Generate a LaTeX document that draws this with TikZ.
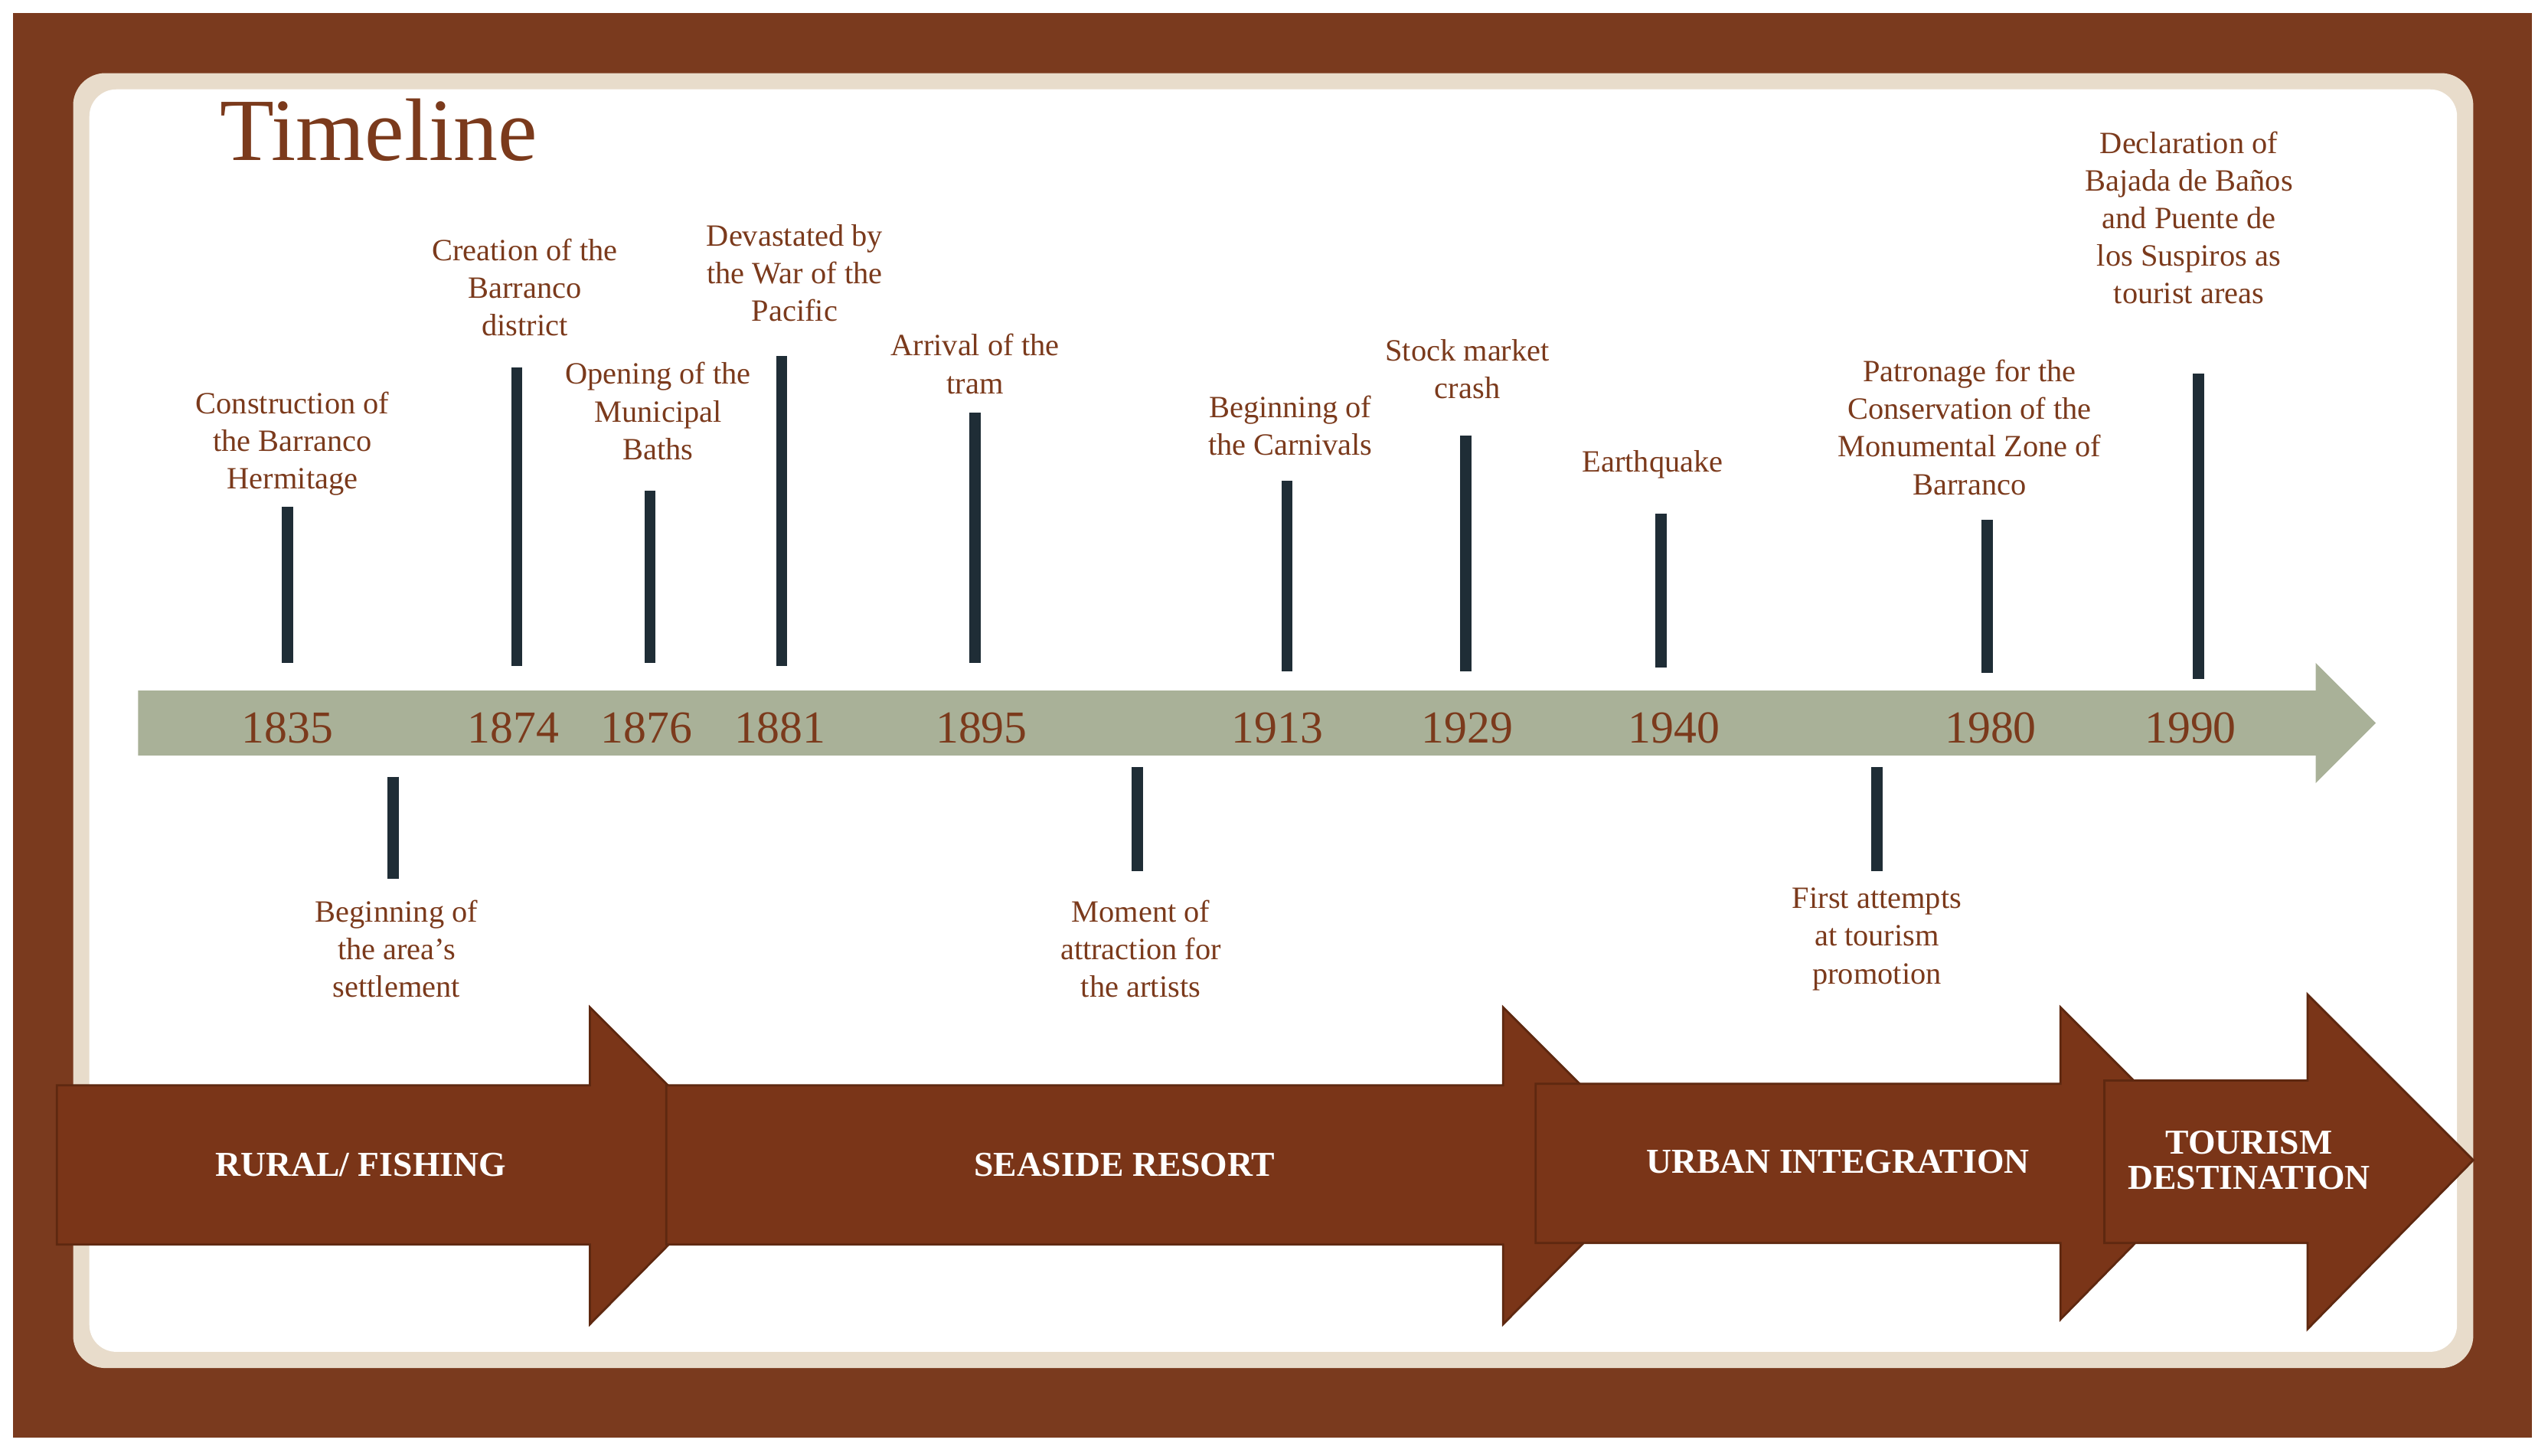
\documentclass[tikz,border=0pt]{standalone}
\usepackage{fontspec}
\setmainfont{Liberation Serif}
\usetikzlibrary{positioning}
\definecolor{framebrown}{HTML}{7A3A1E}
\definecolor{arrowbrown}{HTML}{7A3518}
\definecolor{edgebrown}{HTML}{5E2810}
\definecolor{textbrown}{HTML}{7B3A1C}
\definecolor{sage}{HTML}{A9B198}
\definecolor{tickslate}{HTML}{1F2D36}
\definecolor{glow}{HTML}{E8DCCB}

\begin{document}
\begin{tikzpicture}[x=0.02122cm, y=-0.02122cm,
  evt/.style={align=center, text=textbrown, font=\fontsize{11.5}{14}\selectfont},
  yr/.style={text=textbrown, font=\fontsize{17}{20}\selectfont},
  tick/.style={draw=tickslate, line width=4.2pt},
  phase/.style={fill=arrowbrown, draw=edgebrown, line width=0.8pt},
  phaselbl/.style={align=center, text=white, font=\bfseries\fontsize{13}{13}\selectfont}]

\useasboundingbox (0,0) rectangle (1568,896);

% frame and panel
\fill[framebrown] (8,8) rectangle (1558,885);
\fill[glow, rounded corners=12pt] (45,45) rectangle (1522,842);
\fill[white, rounded corners=10pt] (55,55) rectangle (1512,832);

\node[text=textbrown, font=\fontsize{33}{40}\selectfont] (title) at (233,80) {Timeline};

% main axis arrow
\fill[sage] (85,425) -- (1425,425) -- (1425,408) -- (1462,445) -- (1425,482) -- (1425,465) -- (85,465) -- cycle;
\coordinate (axis) at (85,445);

% years with ticks and labels above
\foreach \yy/\yx/\tx/\ttop/\tbot/\lx/\ly/\txt in {
  1835/177/177/312/408/180/273/{Construction of\\the Barranco\\Hermitage},
  1874/316/318/226/410/323/177/{Creation of the\\Barranco\\district},
  1876/398/400/302/408/405/253/{Opening of the\\Municipal\\Baths},
  1881/480/481/219/410/489/168/{Devastated by\\the War of the\\Pacific},
  1895/604/600/254/408/600/224/{Arrival of the\\tram},
  1913/786/792/296/413/794/262/{Beginning of\\the Carnivals},
  1929/903/902/268/413/903/227/{Stock market\\crash},
  1940/1030/1022/316/411/1017/286/{Earthquake},
  1980/1225/1223/320/414/1212/263/{Patronage for the\\Conservation of the\\Monumental Zone of\\Barranco},
  1990/1348/1353/230/418/1347/134/{Declaration of\\Bajada de Baños\\and Puente de\\los Suspiros as\\tourist areas}}{
  \node[yr] (y\yy) at (\yx,448) {\yy};
  \coordinate (t\yy a) at (\tx,\ttop);
  \coordinate (t\yy b) at (\tx,\tbot);
  \draw[tick] (t\yy a) -- (t\yy b);
  \node[evt] (e\yy) at (\lx,\ly) {\txt};
}

% ticks and labels below
\foreach \nm/\tx/\ttop/\tbot/\lx/\ly/\txt in {
  settle/242/478/541/244/584/{Beginning of\\the area's\\settlement},
  artists/700/472/536/702/584/{Moment of\\attraction for\\the artists},
  tourism/1155/472/536/1155/578/{First attempts\\at tourism\\promotion}}{
  \coordinate (b\nm a) at (\tx,\ttop);
  \coordinate (b\nm b) at (\tx,\tbot);
  \draw[tick] (b\nm a) -- (b\nm b);
  \node[evt] (l\nm) at (\lx,\ly) {\txt};
}

% phase arrows
\draw[phase] (35,668) -- (363,668) -- (363,620) -- (460,717) -- (363,815) -- (363,766) -- (35,766) -- cycle;
\draw[phase] (410,668) -- (925,668) -- (925,620) -- (1022,717) -- (925,815) -- (925,766) -- (410,766) -- cycle;
\draw[phase] (945,667) -- (1268,667) -- (1268,620) -- (1363,715) -- (1268,812) -- (1268,765) -- (945,765) -- cycle;
\draw[phase] (1295,665) -- (1420,665) -- (1420,612) -- (1522,714) -- (1420,818) -- (1420,765) -- (1295,765) -- cycle;

\node[phaselbl] (rural) at (222,717) {RURAL/ FISHING};
\node[phaselbl] (seaside) at (692,717) {SEASIDE RESORT};
\node[phaselbl] (urban) at (1131,715) {URBAN INTEGRATION};
\node[phaselbl] (dest) at (1384,714) {TOURISM\\DESTINATION};

\end{tikzpicture}
\end{document}
